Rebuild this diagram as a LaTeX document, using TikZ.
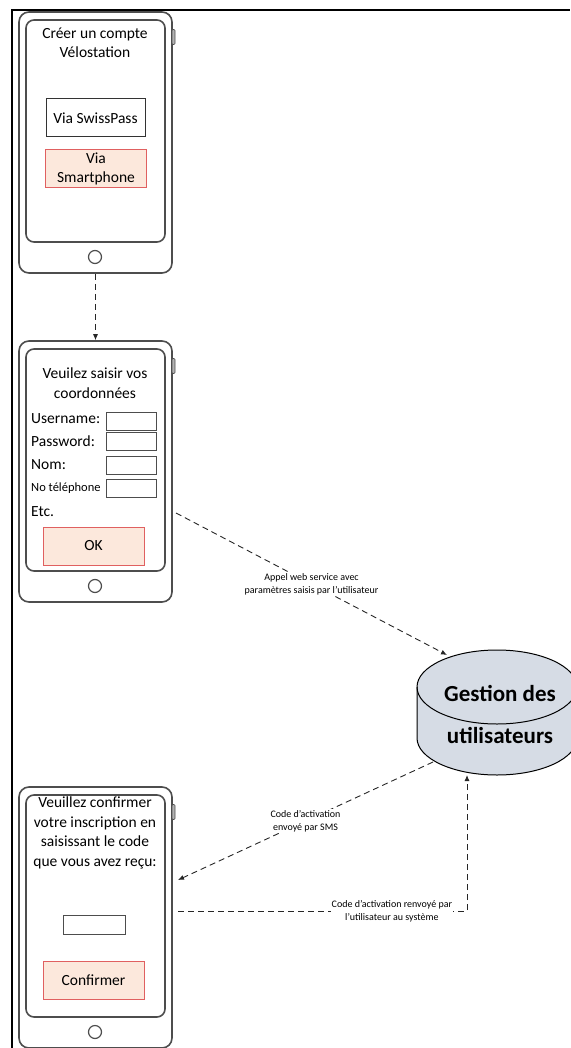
\documentclass[tikz,border=0pt]{standalone}
\usepackage{fontspec}
\setmainfont{Carlito}
\usetikzlibrary{positioning,arrows.meta}
\definecolor{phonegray}{HTML}{4D4D4D}
\definecolor{btnfill}{HTML}{FCE8DC}
\definecolor{btnline}{HTML}{E06060}
\definecolor{dbfill}{HTML}{D6DCE5}
\newcommand{\fs}[2]{\fontsize{#1}{#2}\selectfont}
% one phone: name, top edge
\newcommand{\phoneframe}[2]{%
  \node[phonebody] (#1) at (95.5,{#2+130.5}) {};
  \node[screen] (#1scr) at (95.5,{#2+119}) {};
  \node[sidebtn] (#1btn) at (173.5,{#2+25}) {};
  \node[homebtn] (#1home) at (95,{#2+245}) {};
}

\begin{document}
\begin{tikzpicture}[x=1pt,y=-1pt,
    phonebody/.style={draw=phonegray,line width=1.6pt,rounded corners=10pt,minimum width=153pt,minimum height=261pt,inner sep=0pt},
    screen/.style={draw=phonegray,line width=1.6pt,rounded corners=8pt,minimum width=139pt,minimum height=222pt,inner sep=0pt},
    sidebtn/.style={draw=phonegray,fill=gray!60,line width=0.6pt,rounded corners=1pt,minimum width=3pt,minimum height=15pt,inner sep=0pt},
    homebtn/.style={circle,draw=phonegray,line width=1.2pt,minimum size=13pt,inner sep=0pt},
    title/.style={font=\fs{15.5}{19.5},align=center,inner sep=0pt},
    lbl/.style={font=\fs{15.5}{17},anchor=west,inner sep=0pt},
    field/.style={draw=phonegray,line width=1pt,minimum width=50pt,minimum height=18pt,inner sep=0pt},
    plainbtn/.style={draw=black!80,line width=1pt,minimum width=99pt,minimum height=38pt,font=\fs{15.5}{19},align=center},
    okbtn/.style={draw=btnline,fill=btnfill,line width=1pt,minimum width=101pt,minimum height=38pt,font=\fs{15.5}{19},align=center,inner sep=0pt},
    flow/.style={dash pattern=on 6pt off 4pt,line width=0.9pt,draw=black!85,-{Latex[length=6pt,width=5pt]}},
    edgelbl/.style={font=\fs{10}{13},align=center,fill=white,inner sep=1pt}
]
\useasboundingbox (0,0) rectangle (570,1048);

% frame
\draw[line width=2pt] (12,1048) -- (12,10) -- (570,10);

% phones
\phoneframe{ph1}{12}
\phoneframe{ph2}{341}
\phoneframe{ph3}{787}

% screen 1
\node[title] (t1) at (95,43) {Créer un compte\\Vélostation};
\node[plainbtn] (swiss) at (95.5,118) {Via SwissPass};
\node[okbtn] (smart) at (96,169) {Via\\Smartphone};

% screen 2
\node[title] (t2) at (95,383) {Veuilez saisir vos\\coordonnées};
\node[lbl] (user) at (31,419) {Username:};
\node[lbl] (pass) at (31,441) {Password:};
\node[lbl] (nom) at (31,465) {Nom:};
\node[lbl,font=\fs{12.5}{14}] (tel) at (31,488) {No téléphone};
\node[lbl] (etc) at (31,512) {Etc.};
\node[field] (fuser) at (131,421) {};
\node[field] (fpass) at (131,441) {};
\node[field] (fnom) at (131,465) {};
\node[field] (ftel) at (131,488) {};
\node[okbtn] (ok) at (93.5,546) {OK};

% screen 3
\node[title] (t3) at (95,833) {Veuillez confirmer\\votre inscription en\\saisissant le code\\que vous avez reçu:};
\node[field,minimum width=62pt,minimum height=19pt] (fcode) at (94,924.5) {};
\node[okbtn] (conf) at (93.5,980.5) {Confirmer};

% base de donnees
\filldraw[fill=dbfill,draw=black,line width=1pt] (417,687) -- (417,738)
    arc[start angle=180,end angle=0,x radius=80,y radius=37] -- (577,687)
    arc[start angle=0,end angle=-180,x radius=80,y radius=37] -- cycle;
\draw[line width=1pt] (417,687) arc[start angle=180,end angle=0,x radius=80,y radius=37];
\node[font=\fs{23}{42}\bfseries,align=center] (db) at (500,714) {Gestion des\\utilisateurs};
\coordinate (dbin) at (447,655);
\coordinate (dbout) at (433,762);
\coordinate (dbret) at (467,775);

\coordinate (ph2out) at (176,513);
\coordinate (ph3in) at (178,880);
\coordinate (ph3out) at (178,911);

% fleches
\draw[flow] (ph1.south) -- (ph2.north);
\draw[flow] (ph2out) -- (dbin) node[edgelbl,pos=0.5] {Appel web service avec\\paramètres saisis par l’utilisateur};
\draw[flow] (dbout) -- (ph3in) node[edgelbl,pos=0.5] {Code d’activation\\envoyé par SMS};
\draw[flow] (ph3out) -| (dbret) node[edgelbl,pos=0.37] {Code d’activation renvoyé par\\l’utilisateur au système};

\end{tikzpicture}
\end{document}
